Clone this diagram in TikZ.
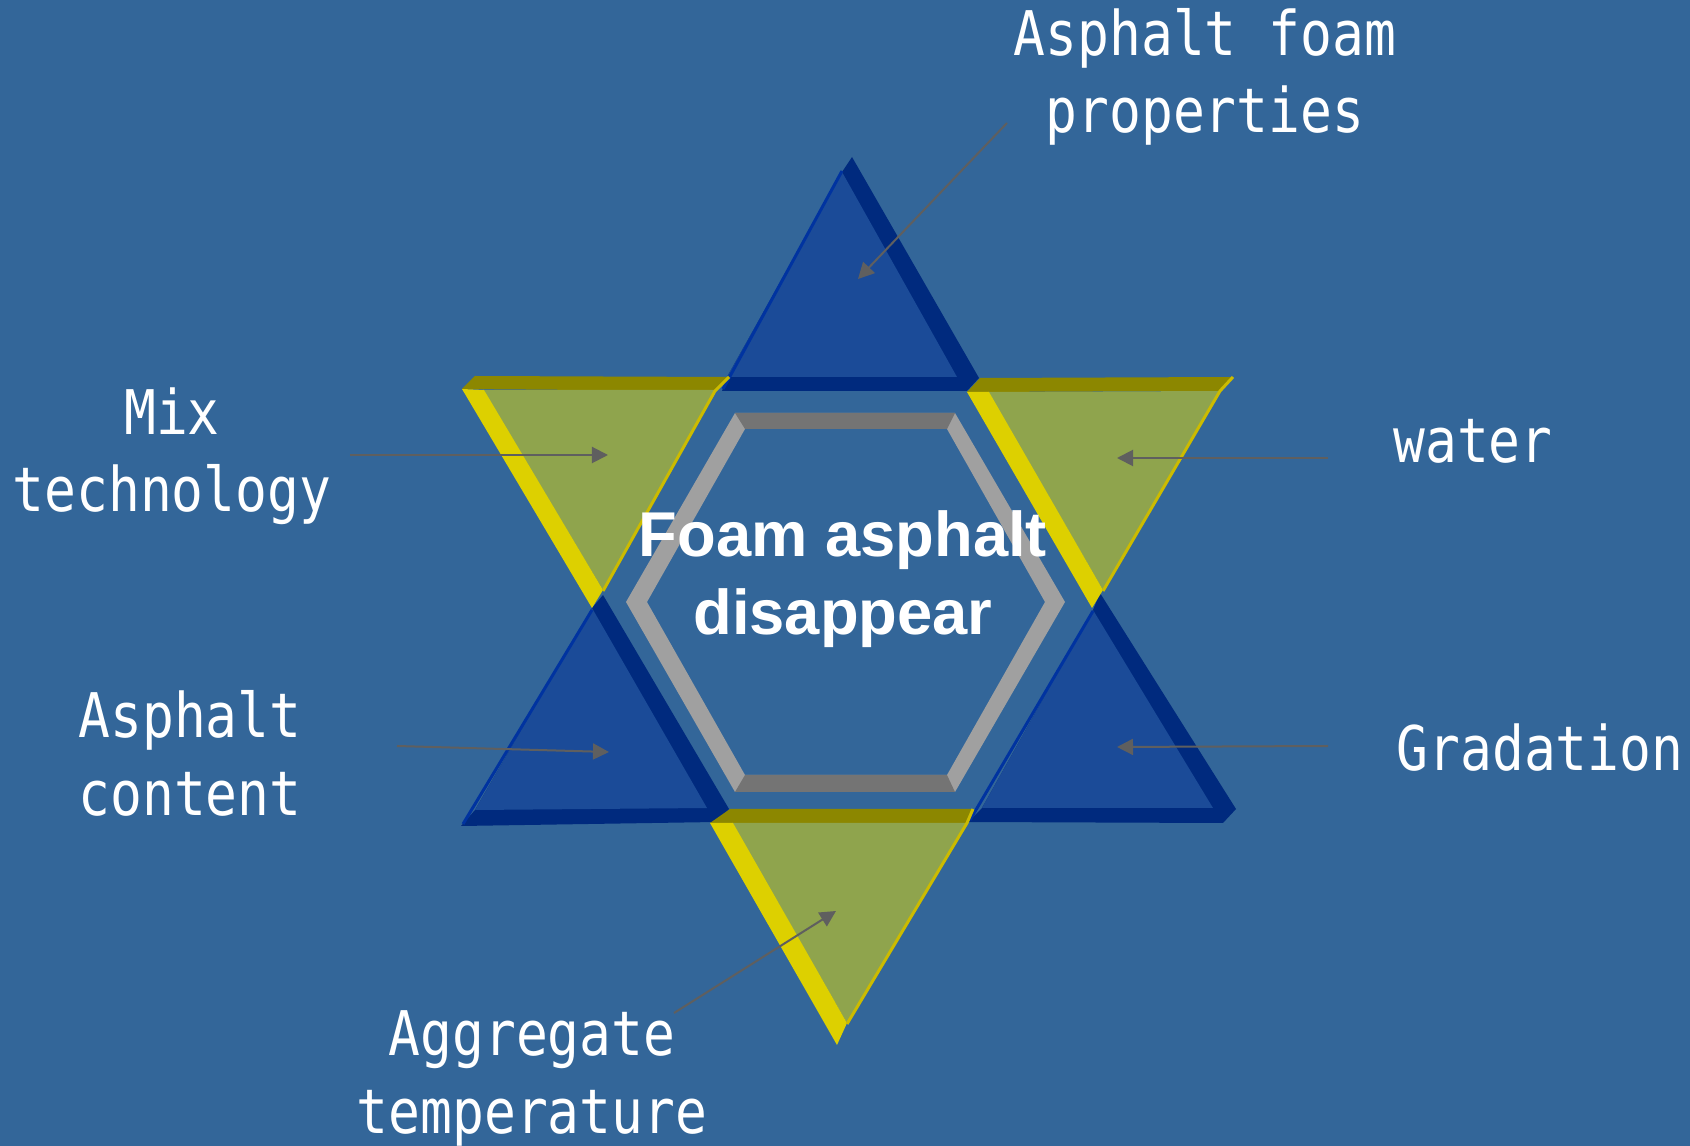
\documentclass[tikz,border=0pt]{standalone}
\usepackage{fontspec}
\setmainfont{Liberation Sans}
\newfontfamily\factorfont[FakeStretch=0.86]{DejaVu Sans Mono}
\usetikzlibrary{arrows.meta}

\definecolor{bgblue}{RGB}{51,102,153}
\definecolor{blueface}{RGB}{27,75,152}
\definecolor{bluedark}{RGB}{0,42,126}
\definecolor{bluelight}{RGB}{0,51,160}
\definecolor{greenface}{RGB}{143,164,77}
\definecolor{yellowband}{RGB}{221,208,0}
\definecolor{oliveband}{RGB}{140,135,0}
\definecolor{yellowedge}{RGB}{204,187,0}
\definecolor{hexlight}{RGB}{160,160,160}
\definecolor{hexdark}{RGB}{116,116,116}
\definecolor{arrowgray}{RGB}{95,95,95}

\begin{document}
\begin{tikzpicture}[x=0.01cm, y=-0.01cm,
    factortext/.style={text=white, font=\factorfont\fontsize{17.5}{22}\selectfont, align=center, anchor=base, inner sep=0pt},
    centertext/.style={text=white, font=\bfseries\fontsize{18}{22.2}\selectfont, align=center, anchor=base, inner sep=0pt},
    pointer/.style={draw=arrowgray, line width=0.2mm, -{Triangle[length=1.6mm, width=1.6mm]}},
    lightedge/.style={draw=bluelight, line width=0.3mm},
    thinedge/.style={draw=yellowedge, line width=0.3mm}]
    \fill[bgblue] (0, 0) rectangle (1690, 1146);
    \useasboundingbox (0, 0) rectangle (1690, 1146);

    \fill[bluedark] (842, 172) -- (852, 157) -- (979, 378) -- (967, 391) -- (722, 391) -- (727, 377) -- cycle;
    \fill[blueface] (842, 172) -- (957, 377) -- (727, 377) -- cycle;
    \draw[lightedge] (723, 389) -- (842, 171);

    \fill[bluedark] (592, 608) -- (603, 595) -- (729, 809) -- (716, 822) -- (461, 826) -- (475, 810) -- cycle;
    \fill[blueface] (592, 608) -- (707, 808) -- (475, 810) -- cycle;
    \draw[lightedge] (463, 824) -- (592, 610);

    \fill[bluedark] (1093, 610) -- (1100, 593) -- (1236, 809) -- (1223, 823) -- (968, 822) -- (982, 808) -- cycle;
    \fill[blueface] (1093, 610) -- (1213, 808) -- (982, 808) -- cycle;
    \draw[lightedge] (970, 820) -- (1093, 611);

    \fill[oliveband] (462, 389) -- (475, 376) -- (729, 377) -- (715, 391) -- cycle;
    \fill[greenface] (483, 390) -- (715, 390) -- (603, 590) -- cycle;
    \fill[yellowband] (462, 389) -- (484, 390) -- (603, 590) -- (592, 608) -- cycle;
    \draw[thinedge] (729, 377) -- (715, 391) -- (603, 591);

    \fill[oliveband] (967, 392) -- (980, 378) -- (1233, 377) -- (1220, 391) -- cycle;
    \fill[greenface] (988, 392) -- (1220, 391) -- (1103, 590) -- cycle;
    \fill[yellowband] (967, 392) -- (989, 392) -- (1103, 590) -- (1092, 608) -- cycle;
    \draw[thinedge] (1233, 377) -- (1220, 391) -- (1103, 591);

    \fill[oliveband] (710, 823) -- (730, 809) -- (973, 809) -- (967, 823) -- cycle;
    \fill[greenface] (732, 823) -- (967, 823) -- (847, 1023) -- cycle;
    \fill[yellowband] (710, 823) -- (733, 823) -- (847, 1023) -- (837, 1045) -- cycle;
    \draw[thinedge] (973, 809) -- (967, 823) -- (847, 1024);

    \fill[hexlight, even odd rule] (735, 413) -- (955, 413) -- (1065, 602) -- (955, 792) -- (735, 792) -- (626, 602) -- cycle
        (745, 429) -- (947, 429) -- (1045, 602) -- (947, 775) -- (745, 775) -- (647, 602) -- cycle;
    \fill[hexdark] (735, 413) -- (955, 413) -- (947, 429) -- (745, 429) -- cycle;
    \fill[hexdark] (745, 775) -- (947, 775) -- (955, 792) -- (735, 792) -- cycle;

    \node[centertext] (core) at (843, 635) {Foam asphalt\\disappear};

    \node[factortext] (foamprops) at (1205, 133) {Asphalt foam\\properties};
    \node[factortext] (mixtech) at (172, 512) {Mix\\technology};
    \node[factortext] (water) at (1473, 463) {water};
    \node[factortext] (content) at (190, 815) {Asphalt\\content};
    \node[factortext] (gradation) at (1540, 771) {Gradation};
    \node[factortext] (aggtemp) at (532, 1133) {Aggregate\\temperature};

    \coordinate (foamprops-from) at (1007, 123);
    \coordinate (foamprops-to) at (858, 279);
    \coordinate (mixtech-from) at (350, 455);
    \coordinate (mixtech-to) at (608, 455);
    \coordinate (water-from) at (1328, 458);
    \coordinate (water-to) at (1117, 458);
    \coordinate (content-from) at (397, 746);
    \coordinate (content-to) at (609, 752);
    \coordinate (gradation-from) at (1328, 746);
    \coordinate (gradation-to) at (1117, 747);
    \coordinate (aggtemp-from) at (674, 1013);
    \coordinate (aggtemp-to) at (836, 911);

    \draw[pointer] (foamprops-from) -- (foamprops-to);
    \draw[pointer] (mixtech-from) -- (mixtech-to);
    \draw[pointer] (water-from) -- (water-to);
    \draw[pointer] (content-from) -- (content-to);
    \draw[pointer] (gradation-from) -- (gradation-to);
    \draw[pointer] (aggtemp-from) -- (aggtemp-to);
\end{tikzpicture}
\end{document}
